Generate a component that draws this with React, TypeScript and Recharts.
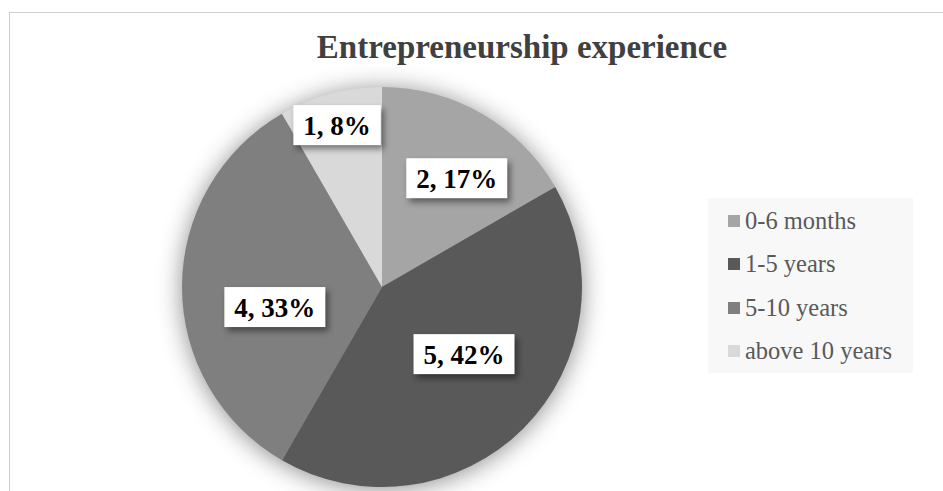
import React from "react";
import { PieChart, Pie, Cell, Legend } from "recharts";

const CATEGORIES = ["0-6 months", "1-5 years", "5-10 years", "above 10 years"];
const COUNTS = [2, 5, 4, 1];
const COLORS = ["#a5a5a5", "#595959", "#7f7f7f", "#d9d9d9"];

const data = CATEGORIES.map((name, i) => ({ name, value: COUNTS[i] }));
const total = COUNTS.reduce((a, c) => a + c, 0);

// label placement (fraction of radius, clockwise angle shift) like Excel's best fit
const LABEL_PLACE = [
  { r: 0.66, shift: 4.5 },
  { r: 0.53, shift: -5.7 },
  { r: 0.545, shift: -10.6 },
  { r: 0.84, shift: -0.5 },
];

const RAD = Math.PI / 180;
const FONT = '"Liberation Serif", "Times New Roman", serif';

const charW = (ch: string) => {
  if (ch === "%") return 1.0;
  if (ch === "," || ch === " ") return 0.25;
  return 0.5;
};

const renderLabel = (props: any) => {
  const { cx, cy, midAngle, outerRadius, index, value } = props;
  const p = LABEL_PLACE[index];
  const a = (midAngle - p.shift) * RAD;
  const r = outerRadius * p.r;
  const x = cx + r * Math.cos(a);
  const y = cy - r * Math.sin(a);
  const pct = Math.round((value / total) * 100);
  const txt = `${value}, ${pct}%`;
  const fs = 27;
  const w = txt.split("").reduce((s, c) => s + charW(c), 0) * fs + 20;
  const h = 40;
  return (
    <g key={`lbl-${index}`}>
      <rect
        x={x - w / 2}
        y={y - h / 2}
        width={w}
        height={h}
        fill="#ffffff"
        style={{ filter: "drop-shadow(3px 4px 3px rgba(0,0,0,0.45))" }}
      />
      <text
        x={x}
        y={y + 1}
        textAnchor="middle"
        dominantBaseline="central"
        fontFamily={FONT}
        fontWeight="bold"
        fontSize={fs}
        fill="#000000"
      >
        {txt}
      </text>
    </g>
  );
};

const LegendBox = () => (
  <div
    style={{
      width: 205,
      height: 175,
      background: "#f8f8f8",
      boxSizing: "border-box",
      paddingTop: 1,
      paddingLeft: 20,
      fontFamily: FONT,
      fontSize: 24.5,
      color: "#595959",
    }}
  >
    {CATEGORIES.map((c, i) => (
      <div key={c} style={{ display: "flex", alignItems: "center", height: 43.5 }}>
        <span
          style={{
            display: "inline-block",
            width: 12,
            height: 12,
            background: COLORS[i],
            marginRight: 5,
          }}
        />
        <span>{c}</span>
      </div>
    ))}
  </div>
);

export default function App() {
  return (
    <div
      style={{
        position: "absolute",
        left: 0,
        top: 0,
        width: 943,
        height: 491,
        overflow: "hidden",
        background: "#ffffff",
      }}
    >
      <style>{`.recharts-layer:has(> .recharts-pie-sector) { filter: drop-shadow(0px 2px 12px rgba(0,0,0,0.45)); }`}</style>
      <div
        style={{
          position: "absolute",
          left: 9,
          top: 12,
          width: 1000,
          height: 600,
          border: "1.5px solid #cfcfcf",
        }}
      />
      <div
        style={{
          position: "absolute",
          left: 0,
          top: 31,
          width: 1044,
          textAlign: "center",
          fontFamily: FONT,
          fontWeight: "bold",
          fontSize: 33,
          lineHeight: "33px",
          color: "#404040",
        }}
      >
        Entrepreneurship experience
      </div>
      <div style={{ position: "absolute", left: 0, top: 0 }}>
        <PieChart width={943} height={491} margin={{ top: 0, right: 0, bottom: 0, left: 0 }}>
          <Pie
            data={data}
            dataKey="value"
            nameKey="name"
            cx={382}
            cy={287}
            outerRadius={200}
            startAngle={90}
            endAngle={-270}
            stroke="none"
            label={renderLabel}
            labelLine={false}
            isAnimationActive={false}
          >
            {data.map((_, i) => (
              <Cell key={`cell-${i}`} fill={COLORS[i]} />
            ))}
          </Pie>
          <Legend
            content={<LegendBox />}
            wrapperStyle={{ position: "absolute", left: 708, top: 198, width: 205, height: 175 }}
          />
        </PieChart>
      </div>
    </div>
  );
}
